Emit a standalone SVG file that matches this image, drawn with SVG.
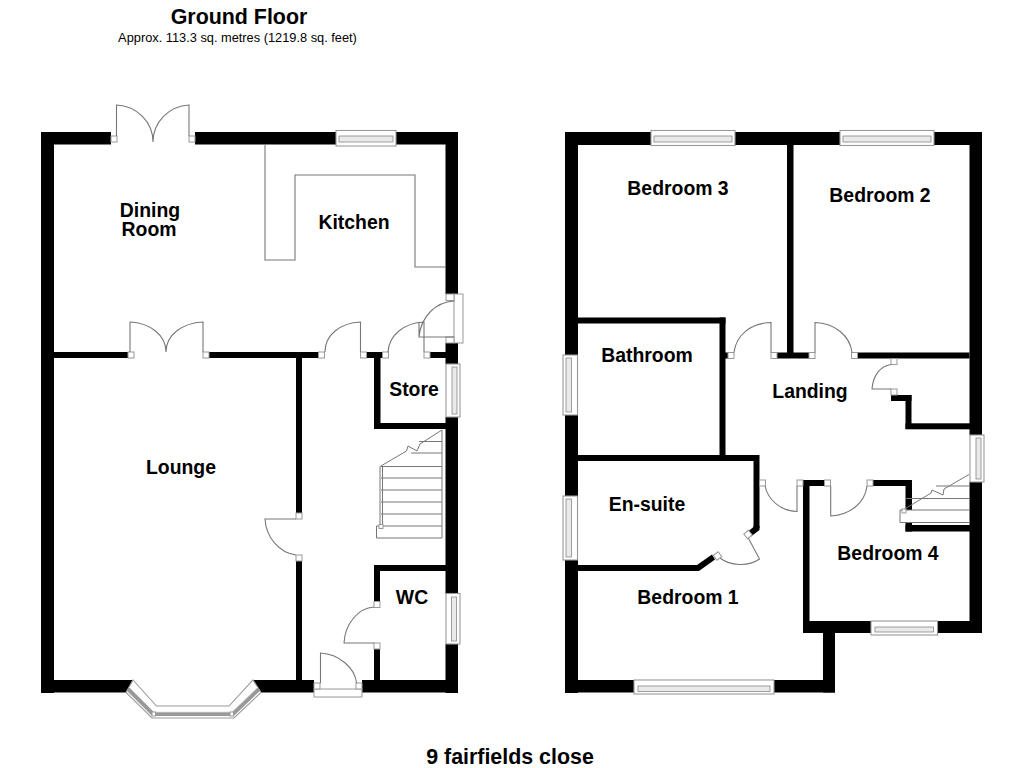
<svg xmlns="http://www.w3.org/2000/svg" width="1024" height="768" viewBox="0 0 1024 768">
<style>
.w{fill:#000}
.j{fill:#fff;stroke:#999;stroke-width:1}
.l{fill:none;stroke:#777;stroke-width:1.100}
.s{fill:none;stroke:#777;stroke-width:1}
.wo{fill:#fff;stroke:#999;stroke-width:1.100}
.wi{fill:#eaeaea;stroke:#888;stroke-width:.8}
text{font-family:"Liberation Sans",Arial,sans-serif;fill:#000;text-anchor:middle}
.r{font-size:19.400px;font-weight:700}
.t{font-size:21.400px;font-weight:700}
</style>
<rect width="1024" height="768" fill="#fff"/>
<g id="ground-walls">
<rect class="w" x="41" y="132" width="13" height="561"/>
<rect class="w" x="41" y="132" width="70" height="12.500"/>
<rect class="w" x="195" y="132" width="263" height="12.500"/>
<rect class="w" x="445.500" y="132" width="12.500" height="162"/>
<rect class="w" x="445.500" y="343" width="12.500" height="21"/>
<rect class="w" x="445.500" y="417" width="12.500" height="177"/>
<rect class="w" x="445.500" y="644" width="12.500" height="49"/>
<polygon class="w" points="41,680 133,680 127,692.500 41,692.500"/>
<polygon class="w" points="253,680 314,680 314,692.500 261,692.500"/>
<rect class="w" x="362" y="680" width="96" height="12.500"/>
<rect class="w" x="54" y="352" width="74" height="6"/>
<rect class="w" x="209" y="352" width="109" height="6"/>
<rect class="w" x="367" y="352" width="16" height="6"/>
<rect class="w" x="430" y="352" width="16" height="6"/>
<rect class="w" x="374" y="352" width="6.500" height="77"/>
<rect class="w" x="374" y="423" width="72" height="6"/>
<rect class="w" x="296" y="352" width="6" height="161"/>
<rect class="w" x="296" y="561" width="6" height="120"/>
<rect class="w" x="374" y="565" width="72" height="6"/>
<rect class="w" x="374" y="565" width="6" height="36"/>
<rect class="w" x="374" y="649" width="6" height="32"/>
</g>
<g id="ground-joinery">
<path class="l" d="M265 144.500V260H295V175H415V267H446"/>
<rect class="j" x="111" y="136" width="6" height="6"/><rect class="j" x="189" y="136" width="6" height="6"/>
<path class="l" d="M116.500 136V105C137 106 153 122 153 142M189 136V105C169 106 153 122 153 142"/>
<rect class="j" x="128" y="352" width="6" height="6"/><rect class="j" x="203" y="352" width="6" height="6"/>
<path class="l" d="M130 352V322C150 323 166 335 166 352M203 352V322C182 323 166 335 166 352"/>
<rect class="j" x="318.500" y="352" width="6" height="6"/><rect class="j" x="360.500" y="352" width="6" height="6"/>
<path class="l" d="M360.500 352V322C340 323 325 335 325 352"/>
<rect class="j" x="382.500" y="352" width="6" height="6"/><rect class="j" x="424" y="352" width="6" height="6"/>
<path class="l" d="M424 352V322C404 323 389 335 388 352"/>
<rect class="j" x="454" y="294" width="9" height="49"/>
<rect class="j" x="446" y="294" width="8" height="6.500"/><rect class="j" x="446" y="337" width="8" height="6"/>
<path class="l" d="M454 301C436 302 421 316 419 337H454M419 322V337"/>
<rect class="j" x="296" y="513" width="6" height="6"/><rect class="j" x="296" y="555" width="6" height="6"/>
<path class="l" d="M296 519H265C266 538 280 553 296 555"/>
<rect class="j" x="374" y="601.500" width="6" height="6"/><rect class="j" x="374" y="643" width="6" height="6"/>
<path class="l" d="M374 607C358 608 345 624 344 643H374"/>
<rect class="j" x="314" y="689" width="48" height="8"/>
<rect class="j" x="314" y="683" width="6" height="6"/><rect class="j" x="356" y="683" width="6" height="6"/>
<path class="l" d="M320.500 683V653C339 654 355 668 356.500 683"/>
</g>
<g id="ground-stairs">
<path class="s" d="M442 430V538H376.500V526H442M381 466.500H442M381 478H442M381 490H442M381 502H442M381 514H442M419 441.500H442M411 453H442M380 466.500V526M382.500 466.500V526"/>
<path class="s" d="M380 466.500L406.500 451L408 446L417 451L420 444L442 430"/>
<rect class="j" x="379" y="524.500" width="4" height="4"/>
</g>
<g id="ground-windows">
<rect class="wo" x="336" y="130.500" width="60" height="15.500"/><rect class="wi" x="339" y="136" width="54" height="6"/>
<rect class="wo" x="446" y="364" width="14" height="53"/><rect class="wi" x="452" y="367" width="5" height="47"/>
<rect class="wo" x="446" y="593.500" width="14" height="50.500"/><rect class="wi" x="451.500" y="597" width="5" height="44"/>
<polygon points="133,680 156.500,706 229,706 253,680 261,692.500 234,718 152,718 126,692.500" fill="#fff" stroke="#999" stroke-width="1.100"/>
<polyline points="128,689 153,714 233,714 259,689" fill="none" stroke="#999" stroke-width="4"/>
<polyline points="129,687 154,712 232,712 258,687" fill="none" stroke="#ddd" stroke-width=".8"/>
<rect class="j" x="152" y="712" width="3.500" height="4"/><rect class="j" x="230" y="712" width="3.500" height="4"/>
</g>
<g id="first-walls">
<rect class="w" x="565" y="132" width="13" height="223"/>
<rect class="w" x="565" y="415" width="13" height="81"/>
<rect class="w" x="565" y="560" width="13" height="133"/>
<rect class="w" x="565" y="132" width="86" height="13"/>
<rect class="w" x="735" y="132" width="105" height="13"/>
<rect class="w" x="934" y="132" width="48" height="13"/>
<rect class="w" x="969.500" y="132" width="12.500" height="303"/>
<rect class="w" x="969.500" y="482" width="12.500" height="151"/>
<rect class="w" x="565" y="680" width="69" height="12.500"/>
<rect class="w" x="774" y="680" width="61" height="12.500"/>
<rect class="w" x="823" y="621" width="12" height="71.500"/>
<rect class="w" x="803" y="621" width="68" height="12"/>
<rect class="w" x="937.500" y="621" width="44.500" height="12"/>
<rect class="w" x="803" y="480" width="6.500" height="153"/>
<rect class="w" x="803" y="480" width="21.500" height="6"/>
<rect class="w" x="873" y="480" width="39" height="6"/>
<rect class="w" x="905.500" y="480" width="6.500" height="30"/>
<rect class="w" x="905.500" y="522.500" width="6.500" height="9"/>
<rect class="w" x="905.500" y="525" width="65" height="6.500"/>
<rect class="w" x="787" y="132" width="6.500" height="221"/>
<rect class="w" x="777" y="352.500" width="32" height="6"/>
<rect class="w" x="857.500" y="352.500" width="112" height="6"/>
<rect class="w" x="578" y="317.500" width="147.500" height="6"/>
<rect class="w" x="719.500" y="317.500" width="6" height="143"/>
<rect class="w" x="725" y="352.500" width="3" height="6"/>
<rect class="w" x="578" y="455" width="181" height="6"/>
<rect class="w" x="753.500" y="455" width="6" height="73"/>
<polygon class="w" points="753.500,526 759.500,526 759.500,530 751,536.500 748,531.500 753.500,527"/>
<polygon class="w" points="578,565 697,565 712,554.500 715,559.500 699,571 578,571"/>
<rect class="w" x="891" y="395" width="20.500" height="6"/>
<rect class="w" x="905.500" y="395" width="6" height="34"/>
<rect class="w" x="905.500" y="423.300" width="65" height="6"/>
</g>
<g id="first-joinery">
<rect class="j" x="728" y="352.500" width="6" height="6"/><rect class="j" x="771" y="352.500" width="6" height="6"/>
<path class="l" d="M771 352.500V322.500C751 323 736 335 734 352.500"/>
<rect class="j" x="809" y="352.500" width="6" height="6"/><rect class="j" x="851.500" y="352.500" width="6" height="6"/>
<path class="l" d="M815 352.500V322.500C835 323 850 336 852 352.500"/>
<rect class="j" x="891" y="358.500" width="6" height="6"/><rect class="j" x="891" y="389" width="6" height="6"/>
<path class="l" d="M891 364.500C880 366 873 376 872 389H891"/>
<rect class="j" x="759.500" y="480" width="6" height="6"/><rect class="j" x="797" y="480" width="6" height="6"/>
<path class="l" d="M765 486C768 500 781 511 797 511.500V486"/>
<rect class="j" x="824.500" y="480" width="6" height="6"/><rect class="j" x="867" y="480" width="6" height="6"/>
<path class="l" d="M830.700 486V516C850 515 865 503 867 486"/>
<path class="l" d="M720 558C730 566 748 567 759.500 559L747.500 536.500"/>
<rect class="j" x="714.500" y="553" width="6" height="6" transform="rotate(-36 717.500 556)"/>
<rect class="j" x="745" y="531.500" width="6" height="6" transform="rotate(-40 748 534.500)"/>
</g>
<g id="first-stairs">
<path class="s" d="M905 510H900V522.500H969.500M905 510H969.500M905 498.500H969.500M936 486H969.500"/>
<path class="s" d="M903 510L931 493L932 490L943 495L944 489L969 474.500"/>
<rect class="j" x="902" y="509" width="4" height="4"/>
</g>
<g id="first-windows">
<rect class="wo" x="651" y="130.500" width="84" height="15"/><rect class="wi" x="654" y="136" width="78" height="6"/>
<rect class="wo" x="840" y="130.500" width="94" height="15"/><rect class="wi" x="843" y="136" width="88" height="6"/>
<rect class="wo" x="563" y="355" width="14.500" height="60"/><rect class="wi" x="566" y="358" width="5.500" height="54"/>
<rect class="wo" x="563" y="496" width="14.500" height="64"/><rect class="wi" x="566" y="499" width="5.500" height="58"/>
<rect class="wo" x="970" y="435" width="14" height="47"/><rect class="wi" x="976" y="438" width="5" height="41"/>
<rect class="wo" x="871" y="621" width="66.500" height="14"/><rect class="wi" x="875" y="627" width="58.500" height="5"/>
<rect class="wo" x="634" y="680" width="140" height="14"/><rect class="wi" x="638" y="686" width="132" height="5.500"/>
</g>
<g id="labels">
<text x="239" y="24" class="t">Ground Floor</text>
<text x="237.500" y="42" font-size="12.800">Approx. 113.3 sq. metres (1219.8 sq. feet)</text>
<text class="r"><tspan x="150" y="217">Dining</tspan><tspan x="149" y="236">Room</tspan></text>
<text x="354" y="229" class="r">Kitchen</text>
<text x="181" y="474" class="r">Lounge</text>
<text x="414" y="396" class="r">Store</text>
<text x="412" y="604" class="r">WC</text>
<text x="678" y="195" class="r">Bedroom 3</text>
<text x="880" y="202" class="r">Bedroom 2</text>
<text x="647" y="362" class="r">Bathroom</text>
<text x="810" y="398" class="r">Landing</text>
<text x="647" y="511" class="r">En-suite</text>
<text x="688" y="604" class="r">Bedroom 1</text>
<text x="888" y="560" class="r">Bedroom 4</text>
<text x="510" y="764" class="t">9 fairfields close</text>
</g>
</svg>
